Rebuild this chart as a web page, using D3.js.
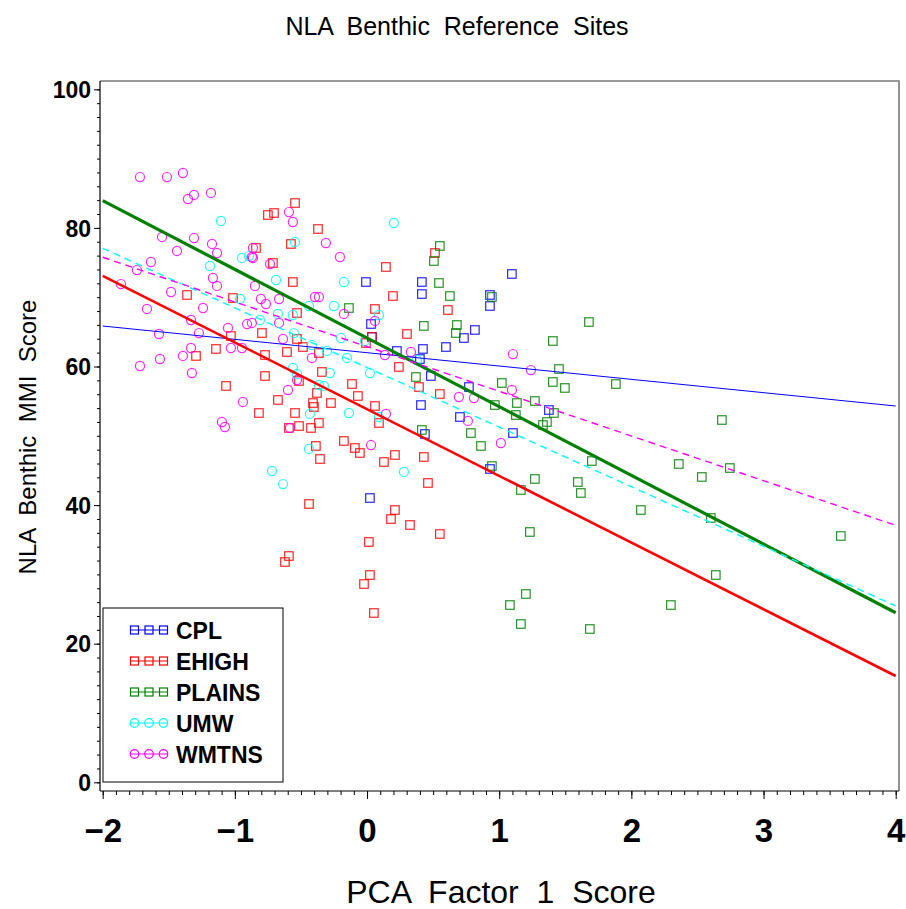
<!DOCTYPE html>
<html>
<head>
<meta charset="utf-8">
<script src="https://cdn.jsdelivr.net/npm/d3@7"></script>
<style>
  html, body { margin: 0; padding: 0; background: #fff; }
  svg { display: block; }
  text { font-family: "Liberation Sans", Arial, Helvetica, sans-serif; fill: #000; }
</style>
</head>
<body>
<svg id="chart" width="906" height="909"></svg>
<script>
// Regions (ecoregion groups) in legend order
const regions = ["CPL", "EHIGH", "PLAINS", "UMW", "WMTNS"];
const regionColors = ["#0000ff", "#ff0000", "#008000", "#00ffff", "#ff00ff"];
const regionSymbols = ["square", "square", "square", "circle", "circle"];

// Site scores: [PCA factor 1 score, benthic MMI score]
const cplSites = [
  [-0.008, 72.19], [0.415, 72.19], [0.415, 70.46], [0.030, 66.13], [0.037, 64.26],
  [0.226, 62.24], [0.423, 62.53], [0.400, 61.08], [1.096, 73.35], [0.930, 70.32],
  [0.930, 68.73], [0.816, 65.27], [0.733, 64.11], [0.597, 62.81], [0.483, 58.63],
  [0.771, 57.04], [0.408, 54.44], [1.376, 53.72], [0.703, 52.71], [0.438, 50.26],
  [1.104, 50.40], [0.930, 45.21], [0.022, 41.02]
];
const ehighSites = [
  [-0.545, 83.59], [-0.750, 81.86], [-0.704, 82.15], [-0.576, 77.68], [-0.840, 77.10],
  [-0.712, 74.94], [-0.561, 72.19], [-1.362, 70.32], [-1.014, 69.88], [-0.530, 67.72],
  [-0.795, 64.83], [-1.030, 64.40], [-0.530, 63.97], [-1.294, 61.52], [-1.143, 62.53],
  [-0.772, 61.66], [-0.606, 62.09], [-0.772, 58.63], [-1.067, 57.19], [-0.674, 55.17],
  [-0.818, 53.29], [-0.545, 53.29], [-0.591, 51.13], [-0.515, 51.41], [-0.591, 32.65],
  [-0.621, 31.79], [-0.371, 79.84], [0.143, 74.36], [0.514, 76.38], [0.196, 70.17],
  [0.060, 68.30], [0.302, 64.69], [0.037, 64.26], [-0.008, 63.39], [-0.485, 62.81],
  [-0.364, 61.95], [0.241, 59.93], [-0.341, 59.21], [-0.515, 57.91], [0.393, 57.04],
  [-0.114, 57.47], [-0.379, 56.18], [-0.069, 55.74], [-0.409, 54.73], [-0.402, 54.16],
  [-0.273, 54.73], [0.060, 54.30], [0.551, 56.03], [0.612, 68.15], [0.090, 51.85],
  [-0.364, 51.85], [-0.424, 51.13], [-0.175, 49.25], [-0.387, 48.53], [-0.092, 48.24],
  [-0.054, 47.52], [-0.356, 46.65], [0.211, 47.23], [0.128, 46.22], [0.430, 46.94],
  [0.461, 43.19], [-0.439, 40.16], [0.211, 39.29], [0.181, 37.99], [0.325, 37.13],
  [0.551, 35.83], [0.014, 34.68], [0.022, 29.91], [-0.023, 28.61], [0.052, 24.43]
];
const plainsSites = [
  [0.551, 77.39], [0.506, 75.22], [0.544, 72.05], [0.627, 70.17], [0.945, 70.03],
  [1.679, 66.42], [0.430, 65.85], [0.680, 65.99], [0.672, 64.83], [1.406, 63.68],
  [-0.137, 68.44], [1.452, 59.64], [0.370, 58.48], [1.020, 57.62], [1.406, 57.76],
  [1.497, 56.90], [1.883, 57.47], [0.967, 54.44], [1.134, 54.73], [1.270, 55.02],
  [1.414, 53.29], [1.126, 53.00], [1.361, 51.99], [1.331, 51.56], [0.415, 50.84],
  [0.786, 50.40], [0.862, 48.53], [2.685, 52.28], [1.701, 46.36], [2.359, 45.93],
  [2.745, 45.35], [2.533, 44.06], [0.945, 45.64], [1.270, 43.77], [1.164, 42.18],
  [1.595, 43.33], [1.618, 41.75], [2.072, 39.29], [2.601, 38.14], [3.585, 35.54],
  [1.232, 36.12], [2.639, 29.91], [2.299, 25.58], [1.202, 27.17], [1.081, 25.58],
  [1.164, 22.84], [1.686, 22.12]
];
const umwSites = [
  [-1.105, 81.00], [-0.545, 77.97], [-0.946, 75.66], [-0.893, 75.94], [-1.188, 74.50],
  [-0.689, 72.48], [-0.961, 69.74], [-0.674, 67.58], [-0.561, 67.43], [-0.810, 66.71],
  [-0.553, 64.83], [0.203, 80.71], [-0.175, 72.19], [-0.439, 68.73], [-0.250, 68.73],
  [0.090, 67.43], [-0.197, 64.11], [-0.016, 63.68], [-0.417, 63.10], [-0.303, 62.24],
  [-0.152, 61.23], [0.377, 60.94], [-0.561, 59.78], [-0.530, 58.92], [-0.281, 59.06],
  [0.022, 59.06], [-0.364, 57.33], [-0.326, 57.19], [-0.432, 53.15], [-0.137, 53.29],
  [0.090, 52.71], [-0.439, 48.10], [0.279, 44.78], [-0.719, 44.92], [-0.636, 43.04]
];
const wmtnsSites = [
  [-1.718, 87.34], [-1.514, 87.34], [-1.393, 87.92], [-1.355, 84.17], [-1.309, 84.75],
  [-1.181, 85.04], [-0.591, 82.29], [-0.561, 80.85], [-1.551, 78.69], [-1.309, 78.54],
  [-1.173, 77.68], [-1.438, 76.67], [-1.135, 76.38], [-0.863, 77.10], [-0.871, 75.80],
  [-0.863, 75.66], [-0.734, 74.79], [-1.635, 75.08], [-1.741, 73.92], [-1.166, 72.77],
  [-1.135, 71.62], [-0.848, 71.62], [-1.862, 71.90], [-1.483, 70.75], [-0.803, 69.74],
  [-0.765, 69.02], [-0.666, 69.74], [-1.665, 68.30], [-1.241, 68.44], [-0.666, 66.28],
  [-0.908, 66.13], [-0.871, 66.28], [-1.332, 66.71], [-1.052, 65.56], [-0.636, 63.97],
  [-1.574, 64.69], [-1.272, 64.83], [-1.332, 62.67], [-1.030, 62.67], [-0.946, 62.67],
  [-1.567, 61.08], [-1.393, 61.52], [-1.718, 60.07], [-1.325, 59.06], [-0.598, 56.61],
  [-0.939, 54.88], [-1.098, 51.99], [-1.075, 51.27], [-0.583, 51.13], [-0.530, 58.05],
  [-0.311, 77.82], [-0.205, 75.80], [-0.394, 70.03], [-0.364, 70.03], [-0.175, 67.58],
  [0.060, 66.57], [-0.417, 61.23], [0.135, 61.66], [0.332, 62.09], [0.143, 53.15],
  [0.030, 48.67], [0.695, 55.60], [0.809, 55.45], [0.763, 52.14], [1.104, 61.80],
  [1.240, 59.49], [1.096, 56.61], [1.013, 48.96]
];
const sitesByRegion = [cplSites, ehighSites, plainsSites, umwSites, wmtnsSites];

// Fitted regression lines per region: predicted MMI at x = -2 and x = 4
const fitX = [-2, 4];
const fitAtStart = [65.84, 73.09, 83.93, 77.06, 75.76];
const fitAtEnd = [54.30, 15.34, 24.47, 25.45, 37.08];
const fitWidth = [1, 2.6, 3.2, 1.4, 1.4];
const fitDash = [null, null, null, "7,5", "7,5"];

// Axis tick values
const xMajorTicks = [-2, -1, 0, 1, 2, 3, 4];
const xMinorTicks = d3.range(-20, 41).map(d => d / 10);
const yMajorTicks = [0, 20, 40, 60, 80, 100];
const yMinorTicks = d3.range(0, 101, 2);

const svg = d3.select("#chart");

const frame = { left: 100, right: 899, top: 81, bottom: 791 };
const x = d3.scaleLinear().domain([-2, 4]).range([102.7, 895.7]);
const y = d3.scaleLinear().domain([0, 100]).range([782.3, 89.3]);

// Title
svg.append("text")
  .attr("x", 457).attr("y", 35)
  .attr("text-anchor", "middle")
  .style("font-size", "25px")
  .style("white-space", "pre")
  .text("NLA  Benthic  Reference  Sites");

// Clip region for the plot area
svg.append("clipPath").attr("id", "plotClip")
  .append("rect")
  .attr("x", frame.left).attr("y", frame.top)
  .attr("width", frame.right - frame.left).attr("height", frame.bottom - frame.top);

// Frame: top and right in grey
svg.append("path")
  .attr("d", `M${frame.left},${frame.top}H${frame.right}V${frame.bottom}`)
  .attr("fill", "none").attr("stroke", "#7a7a7a").attr("stroke-width", 1.6);

const plot = svg.append("g").attr("clip-path", "url(#plotClip)");

// Scatter markers
const markerSize = 8.5;
sitesByRegion.forEach((sites, i) => {
  const g = plot.append("g")
    .attr("fill", "none")
    .attr("stroke", regionColors[i])
    .attr("stroke-width", 1.2)
    .attr("stroke-opacity", 0.85);
  if (regionSymbols[i] === "square") {
    g.selectAll("rect").data(sites).join("rect")
      .attr("x", d => x(d[0]) - markerSize / 2)
      .attr("y", d => y(d[1]) - markerSize / 2)
      .attr("width", markerSize).attr("height", markerSize);
  } else {
    g.selectAll("circle").data(sites).join("circle")
      .attr("cx", d => x(d[0]))
      .attr("cy", d => y(d[1]))
      .attr("r", markerSize / 2 + 0.3);
  }
});

// Regression lines
const lineGen = d3.line().x(d => x(d[0])).y(d => y(d[1]));
regions.forEach((r, i) => {
  plot.append("path")
    .datum([[fitX[0], fitAtStart[i]], [fitX[1], fitAtEnd[i]]])
    .attr("d", lineGen)
    .attr("fill", "none")
    .attr("stroke", regionColors[i])
    .attr("stroke-width", fitWidth[i])
    .attr("stroke-dasharray", fitDash[i]);
});

// Y axis: minor and major ticks
const yAxisG = svg.append("g").attr("transform", `translate(${frame.left},0)`);
yAxisG.append("g")
  .call(d3.axisLeft(y).tickValues(yMinorTicks).tickSize(3).tickFormat(""))
  .call(g => g.select(".domain").remove());
yAxisG.append("g")
  .call(d3.axisLeft(y).tickValues(yMajorTicks).tickSize(6).tickPadding(3).tickFormat(d3.format("d")))
  .call(g => g.select(".domain").remove())
  .call(g => g.selectAll("text")
    .style("font-size", "23px").style("font-weight", "bold")
    .attr("font-family", null).attr("dy", "0.36em"));
yAxisG.append("line")
  .attr("x1", 0).attr("x2", 0).attr("y1", frame.top).attr("y2", frame.bottom)
  .attr("stroke", "#000").attr("stroke-width", 1.2);

// X axis: minor and major ticks
const xAxisG = svg.append("g").attr("transform", `translate(0,${frame.bottom})`);
xAxisG.append("g")
  .call(d3.axisBottom(x).tickValues(xMinorTicks).tickSize(4).tickFormat(""))
  .call(g => g.select(".domain").remove());
xAxisG.append("g")
  .call(d3.axisBottom(x).tickValues(xMajorTicks).tickSize(8).tickPadding(20).tickFormat(d3.format("d")))
  .call(g => g.select(".domain").remove())
  .call(g => g.selectAll("text")
    .style("font-size", "33px").style("font-weight", "bold")
    .attr("font-family", null));
xAxisG.append("line")
  .attr("x1", frame.left).attr("x2", frame.right).attr("y1", 0).attr("y2", 0)
  .attr("stroke", "#000").attr("stroke-width", 1.2);
svg.selectAll(".tick line").attr("stroke", "#000");

// Axis titles
svg.append("text")
  .attr("x", 501).attr("y", 903)
  .attr("text-anchor", "middle")
  .style("font-size", "32px")
  .style("white-space", "pre")
  .text("PCA  Factor  1  Score");

svg.append("text")
  .attr("transform", "translate(36,437) rotate(-90)")
  .attr("text-anchor", "middle")
  .style("font-size", "24px")
  .style("white-space", "pre")
  .text("NLA  Benthic  MMI  Score");

// Legend
const legend = svg.append("g");
legend.append("rect")
  .attr("x", 103).attr("y", 608).attr("width", 180).attr("height", 174)
  .attr("fill", "#fff").attr("stroke", "#000").attr("stroke-width", 1);
const legendRowY = d3.scalePoint().domain(regions).range([630, 754]);
regions.forEach((r, i) => {
  const cy = legendRowY(r);
  const row = legend.append("g")
    .attr("stroke", regionColors[i]).attr("fill", "none").attr("stroke-width", 1.2);
  row.append("line").attr("x1", 130).attr("x2", 168).attr("y1", cy).attr("y2", cy);
  [134.5, 149, 163.5].forEach(cx => {
    if (regionSymbols[i] === "square") {
      row.append("rect").attr("x", cx - 4).attr("y", cy - 4).attr("width", 8).attr("height", 8);
    } else {
      row.append("circle").attr("cx", cx).attr("cy", cy).attr("r", 4.3);
    }
  });
  legend.append("text")
    .attr("x", 176).attr("y", cy + 8.5)
    .style("font-size", "23px").style("font-weight", "bold")
    .text(r);
});
</script>
</body>
</html>
